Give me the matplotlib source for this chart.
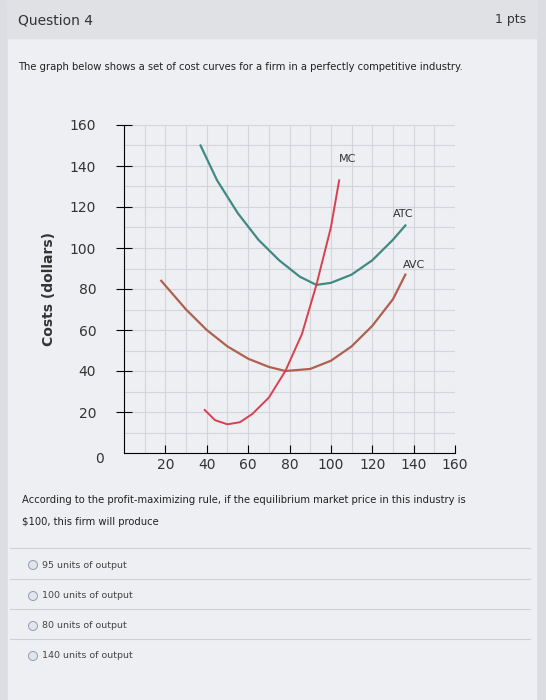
import matplotlib
matplotlib.use("Agg")
import matplotlib.pyplot as plt
from matplotlib.patches import Rectangle, Circle

atc_x = [37, 45, 55, 65, 75, 85, 93, 100, 110, 120, 130, 136]
atc_y = [150, 133, 117, 104, 94, 86, 82, 83, 87, 94, 104, 111]
avc_x = [18, 30, 40, 50, 60, 70, 78, 90, 100, 110, 120, 130, 136]
avc_y = [84, 70, 60, 52, 46, 42, 40, 41, 45, 52, 62, 75, 87]
mc_x = [39, 44, 50, 56, 62, 70, 78, 86, 93, 100, 104]
mc_y = [21, 16, 14, 15, 19, 27, 40, 58, 82, 110, 133]
xticks = [20, 40, 60, 80, 100, 120, 140, 160]
yticks = [20, 40, 60, 80, 100, 120, 140, 160]
options = ["95 units of output", "100 units of output", "80 units of output", "140 units of output"]

W, H = 546, 700
fig = plt.figure(figsize=(W/100, H/100), dpi=100)
fig.patch.set_facecolor("#dcdde2")
bg = fig.add_axes([0, 0, 1, 1]); bg.set_xlim(0, W); bg.set_ylim(H, 0); bg.axis("off")
bg.add_patch(Rectangle((8, 0), 528, 700, color="#eeeff2"))
bg.add_patch(Rectangle((8, 0), 528, 38, color="#e0e1e5"))
bg.text(18, 20, "Question 4", fontsize=10, va="center", color="#333")
bg.text(526, 20, "1 pts", fontsize=9, va="center", ha="right", color="#333")
bg.text(18, 67, "The graph below shows a set of cost curves for a firm in a perfectly competitive industry.",
        fontsize=7.2, va="center", color="#222")
bg.text(22, 500, "According to the profit-maximizing rule, if the equilibrium market price in this industry is",
        fontsize=7.2, va="center", color="#222")
bg.text(22, 522, "$100, this firm will produce", fontsize=7.2, va="center", color="#222")
for i, (o, yy) in enumerate(zip(options, [565, 596, 626, 656])):
    bg.plot([10, 530], [yy - 17, yy - 17], color="#cfd0d4", lw=0.8)
    bg.add_patch(Circle((33, yy), 4.5, fc="#dfe6ee", ec="#99a", lw=0.7))
    bg.text(42, yy, o, fontsize=6.8, va="center", color="#444")

ax = fig.add_axes([124/W, 1 - 453/H, (455-124)/W, (453-125)/H])
ax.set_facecolor("#eeeff2")
ax.set_xlim(0, 160); ax.set_ylim(0, 160)
for v in range(10, 161, 10):
    ax.axvline(v, color="#d4d5da", lw=0.8, zorder=0)
    ax.axhline(v, color="#d4d5da", lw=0.8, zorder=0)
ax.plot(atc_x, atc_y, color="#3f8a82", lw=1.6)
ax.plot(avc_x, avc_y, color="#b0604f", lw=1.6)
ax.plot(mc_x, mc_y, color="#d8404f", lw=1.4)
ax.text(104, 142, "MC", fontsize=8, color="#333")
ax.text(130, 115, "ATC", fontsize=8, color="#333")
ax.text(135, 90, "AVC", fontsize=8, color="#333")
for s in ["top", "right"]:
    ax.spines[s].set_visible(False)
ax.set_xticks(xticks); ax.set_yticks(yticks)
ax.set_xticklabels([str(v) for v in xticks], fontsize=10, color="#333")
ax.set_yticklabels([str(v) for v in yticks], fontsize=10, color="#333")
ax.tick_params(axis="y", direction="inout", length=12, pad=14)
ax.tick_params(axis="x", direction="in", length=6)
ax.text(-12, -3, "0", fontsize=10, color="#333", ha="center", va="center")
ax.set_ylabel("Costs (dollars)", fontsize=10, color="#333", labelpad=10, fontweight="bold")
fig.savefig("out.png", dpi=100, facecolor=fig.get_facecolor())
